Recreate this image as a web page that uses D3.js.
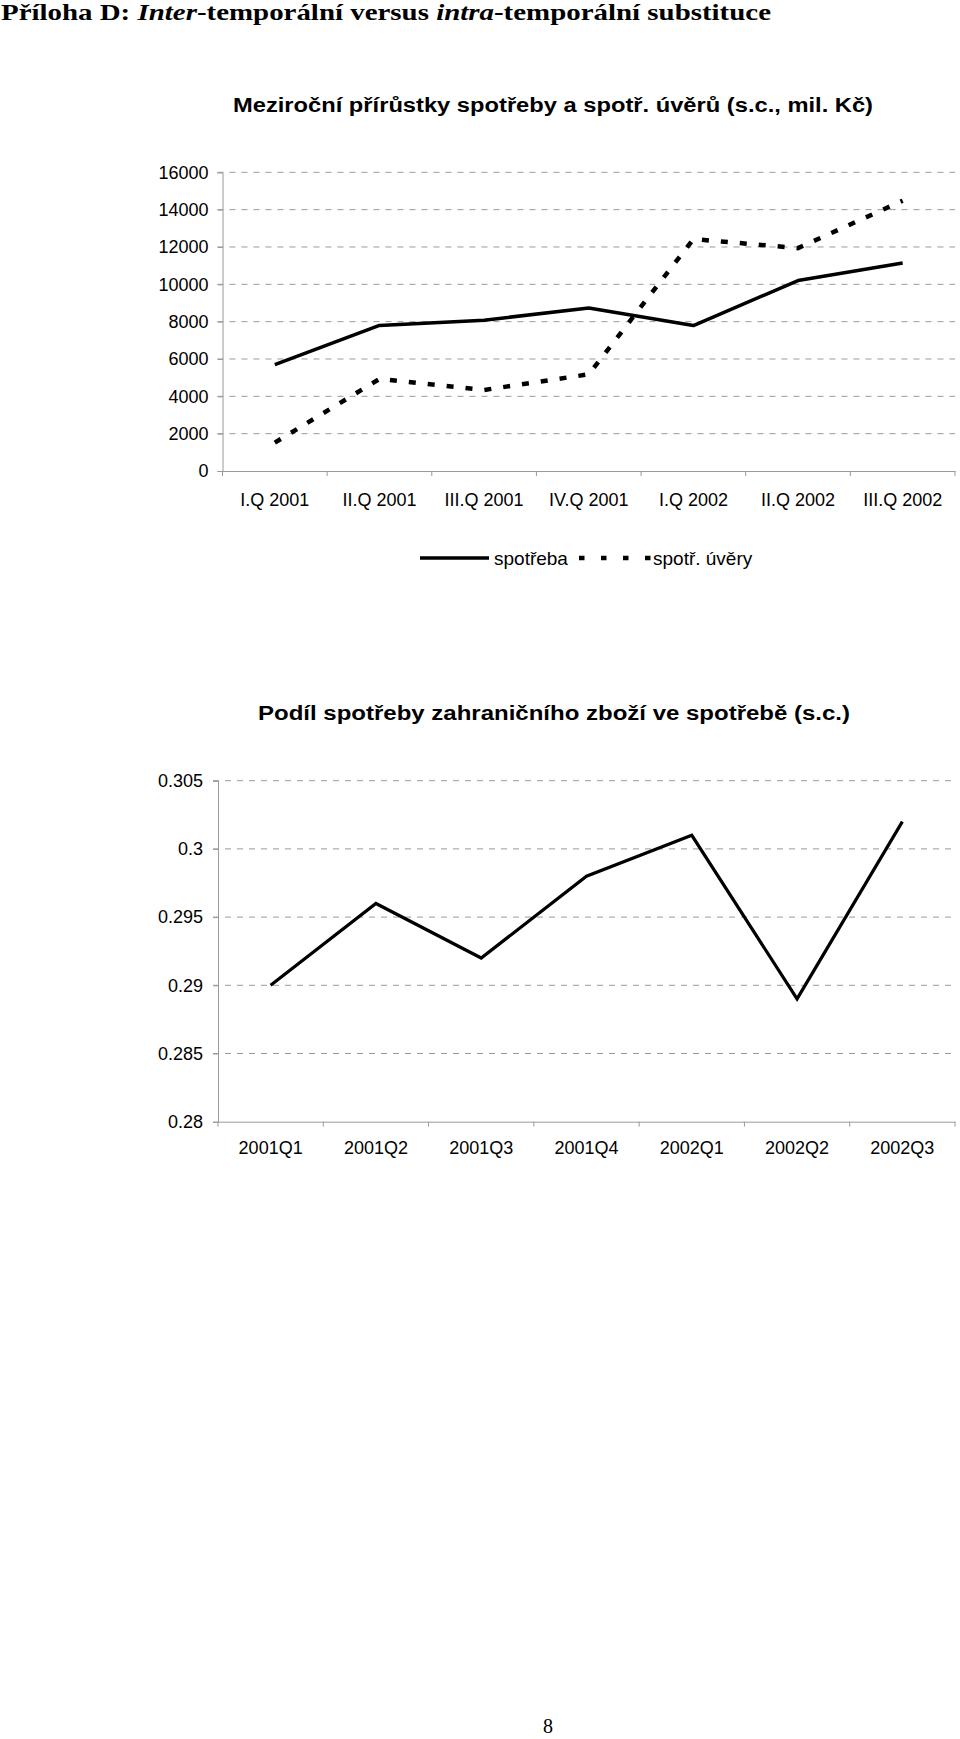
<!DOCTYPE html>
<html>
<head>
<meta charset="utf-8">
<script src="https://cdn.jsdelivr.net/npm/d3@7"></script>
<style>
  html, body { margin: 0; padding: 0; background: #fff; }
  svg { display: block; }
</style>
</head>
<body>
<script>
// ---- data ----
const quarters1 = ["I.Q 2001", "II.Q 2001", "III.Q 2001", "IV.Q 2001", "I.Q 2002", "II.Q 2002", "III.Q 2002"];
const spotreba = [5700, 7800, 8080, 8730, 7790, 10200, 11140];
const spotrUvery = [1520, 4930, 4340, 5180, 12420, 11940, 14480];
const yTicks1 = [0, 2000, 4000, 6000, 8000, 10000, 12000, 14000, 16000];
const seriesNames1 = ["spotřeba", "spotř. úvěry"];

const quarters2 = ["2001Q1", "2001Q2", "2001Q3", "2001Q4", "2002Q1", "2002Q2", "2002Q3"];
const podil = [0.290, 0.296, 0.292, 0.298, 0.301, 0.289, 0.302];
const yTicks2 = [0.28, 0.285, 0.29, 0.295, 0.3, 0.305];
const yTickLabels2 = ["0.28", "0.285", "0.29", "0.295", "0.3", "0.305"];

const chart1Title = "Meziroční přírůstky spotřeby a spotř. úvěrů (s.c., mil. Kč)";
const chart2Title = "Podíl spotřeby zahraničního zboží ve spotřebě (s.c.)";

// ---- svg ----
const W = 960, H = 1739;
const svg = d3.select("body").append("svg").attr("width", W).attr("height", H);

const gridCol = "#9a9a9a";
const axisCol = "#9a9a9a";
const sans = "Arial, 'Liberation Sans', sans-serif";
const serif = "'Times New Roman', 'Liberation Serif', serif";

// page title (mixed italic)
const t = svg.append("text")
  .attr("x", 1).attr("y", 20)
  .attr("font-family", serif).attr("font-weight", "bold").attr("font-size", 23)
  .attr("textLength", 770).attr("lengthAdjust", "spacingAndGlyphs");
t.append("tspan").text("Příloha D: ");
t.append("tspan").attr("font-style", "italic").text("Inter");
t.append("tspan").text("-temporální versus ");
t.append("tspan").attr("font-style", "italic").text("intra");
t.append("tspan").text("-temporální substituce");

// ---------- chart 1 ----------
const c1 = { left: 222.5, right: 955, top: 172.3, bottom: 471 };
const x1 = d3.scaleBand().domain(quarters1).range([c1.left, c1.right]);
const y1 = d3.scaleLinear().domain([0, 16000]).range([c1.bottom, c1.top]);

svg.append("text")
  .attr("x", 233).attr("y", 112)
  .attr("font-family", sans).attr("font-weight", "bold").attr("font-size", 20)
  .attr("textLength", 640).attr("lengthAdjust", "spacingAndGlyphs")
  .text(chart1Title);

const g1 = svg.append("g");
g1.selectAll("line.grid").data(yTicks1.filter(d => d > 0)).join("line")
  .attr("x1", c1.left - 5).attr("x2", c1.right)
  .attr("y1", d => y1(d)).attr("y2", d => y1(d))
  .attr("stroke", gridCol).attr("stroke-width", 1).attr("stroke-dasharray", "6,6");

const yAx1 = g1.append("g").attr("transform", `translate(${c1.left},0)`)
  .call(d3.axisLeft(y1).tickValues(yTicks1).tickSize(5).tickPadding(9).tickFormat(d3.format("d")));
yAx1.select(".domain").attr("stroke", axisCol);
yAx1.selectAll(".tick line").attr("stroke", axisCol);
yAx1.selectAll("text").attr("font-family", sans).attr("font-size", 18).attr("fill", "#000");

const xAx1 = g1.append("g").attr("transform", `translate(0,${c1.bottom})`)
  .call(d3.axisBottom(x1).tickSize(0).tickPadding(22));
xAx1.select(".domain").attr("stroke", axisCol);
xAx1.selectAll("text").attr("font-family", sans).attr("font-size", 18).attr("fill", "#000");
const bounds1 = quarters1.map(q => x1(q)).concat([x1.range()[1]]);
g1.selectAll("line.xt").data(bounds1).join("line")
  .attr("x1", d => d).attr("x2", d => d)
  .attr("y1", c1.bottom).attr("y2", c1.bottom + 5)
  .attr("stroke", axisCol);

const line1 = d3.line().x((d, i) => x1(quarters1[i]) + x1.bandwidth() / 2).y(d => y1(d));
g1.append("path").datum(spotrUvery).attr("d", line1)
  .attr("fill", "none").attr("stroke", "#000").attr("stroke-width", 4.5)
  .attr("stroke-dasharray", "7,12");
g1.append("path").datum(spotreba).attr("d", line1)
  .attr("fill", "none").attr("stroke", "#000").attr("stroke-width", 3.5)
  .attr("stroke-linejoin", "round");

// legend
const lg = svg.append("g");
lg.append("line").attr("x1", 420).attr("x2", 489).attr("y1", 558).attr("y2", 558)
  .attr("stroke", "#000").attr("stroke-width", 3.5);
lg.append("text").attr("x", 494).attr("y", 565).attr("font-family", sans).attr("font-size", 19)
  .text(seriesNames1[0]);
lg.append("line").attr("x1", 579).attr("x2", 651).attr("y1", 558).attr("y2", 558)
  .attr("stroke", "#000").attr("stroke-width", 4.5).attr("stroke-dasharray", "5.5,16.5");
lg.append("text").attr("x", 653).attr("y", 565).attr("font-family", sans).attr("font-size", 19)
  .text(seriesNames1[1]);

// ---------- chart 2 ----------
const c2 = { left: 218, right: 955, top: 780.7, bottom: 1121.7 };
const x2 = d3.scaleBand().domain(quarters2).range([c2.left, c2.right]);
const y2 = d3.scaleLinear().domain([0.28, 0.305]).range([c2.bottom, c2.top]);

svg.append("text")
  .attr("x", 258).attr("y", 720)
  .attr("font-family", sans).attr("font-weight", "bold").attr("font-size", 20)
  .attr("textLength", 592).attr("lengthAdjust", "spacingAndGlyphs")
  .text(chart2Title);

const g2 = svg.append("g");
g2.selectAll("line.grid").data(yTicks2.filter(d => d > 0.28)).join("line")
  .attr("x1", c2.left - 5).attr("x2", c2.right)
  .attr("y1", d => y2(d)).attr("y2", d => y2(d))
  .attr("stroke", gridCol).attr("stroke-width", 1).attr("stroke-dasharray", "6,6");

const yAx2 = g2.append("g").attr("transform", `translate(${c2.left},0)`)
  .call(d3.axisLeft(y2).tickValues(yTicks2).tickSize(5).tickPadding(10)
    .tickFormat((d, i) => yTickLabels2[i]));
yAx2.select(".domain").attr("stroke", axisCol);
yAx2.selectAll(".tick line").attr("stroke", axisCol);
yAx2.selectAll("text").attr("font-family", sans).attr("font-size", 18).attr("fill", "#000");

const xAx2 = g2.append("g").attr("transform", `translate(0,${c2.bottom})`)
  .call(d3.axisBottom(x2).tickSize(0).tickPadding(20));
xAx2.select(".domain").attr("stroke", axisCol);
xAx2.selectAll("text").attr("font-family", sans).attr("font-size", 18).attr("fill", "#000");
const bounds2 = quarters2.map(q => x2(q)).concat([x2.range()[1]]);
g2.selectAll("line.xt").data(bounds2).join("line")
  .attr("x1", d => d).attr("x2", d => d)
  .attr("y1", c2.bottom).attr("y2", c2.bottom + 5)
  .attr("stroke", axisCol);

const line2 = d3.line().x((d, i) => x2(quarters2[i]) + x2.bandwidth() / 2).y(d => y2(d));
g2.append("path").datum(podil).attr("d", line2)
  .attr("fill", "none").attr("stroke", "#000").attr("stroke-width", 3.2);

// page number
svg.append("text").attr("x", 548).attr("y", 1733).attr("text-anchor", "middle")
  .attr("font-family", serif).attr("font-size", 20).text("8");
</script>
</body>
</html>
